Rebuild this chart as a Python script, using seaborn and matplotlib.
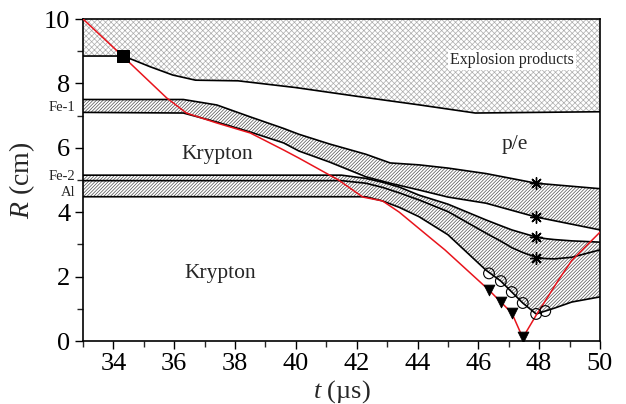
import matplotlib
matplotlib.use("Agg")
import matplotlib.pyplot as plt
import matplotlib.transforms as mtransforms
from matplotlib.ticker import MultipleLocator
import seaborn as sns

# Lower edge of the explosion-products region, R(t)
products_t = [33, 34.3, 34.65, 35.2, 35.95, 36.7, 38.1, 40, 42, 44, 45.9, 50]
products_r = [8.85, 8.85, 8.73, 8.52, 8.26, 8.1, 8.08, 7.87, 7.6, 7.34, 7.08, 7.12]

# First iron shell (Fe-1): outer and inner surfaces
fe1_t = [33, 36.3, 37.4, 38.5, 39.6, 40.1, 41.1, 42.3, 43.1, 44.05, 45.0, 46.25, 47.9, 50]
fe1_outer = [7.5, 7.5, 7.33, 6.96, 6.6, 6.42, 6.12, 5.8, 5.53, 5.47, 5.37, 5.2, 4.9, 4.73]
fe1_inner = [7.1, 7.08, 6.8, 6.49, 6.15, 5.9, 5.56, 5.1, 4.9, 4.69, 4.47, 4.28, 3.85, 3.45]

# Second iron shell (Fe-2) and aluminium liner
liner_t = [33, 41.5, 42.3, 42.85, 43.4, 44.05, 45.0, 46.25, 46.74, 47.1, 47.46, 47.9, 48.2, 48.5, 49.07, 50]
fe2_outer = [5.15, 5.15, 5.05, 4.93, 4.78, 4.53, 4.25, 3.76, 3.58, 3.45, 3.35, 3.23, 3.18, 3.15, 3.11, 3.07]
fe2_inner = [4.98, 4.98, 4.9, 4.77, 4.6, 4.38, 4.02, 3.35, 3.1, 2.9, 2.75, 2.6, 2.56, 2.55, 2.6, 2.83]
al_inner = [4.48, 4.48, 4.48, 4.35, 4.15, 3.86, 3.3, 2.2, 1.86, 1.52, 1.18, 0.84, 0.93, 1.02, 1.21, 1.37]

# Shock trajectory in krypton
shock_t = [33, 34.3, 35.75, 36.4, 37.4, 38.5, 39.6, 40.1, 41.4, 42.2, 42.85, 43.4,
           44.5, 44.9, 46.35, 46.74, 47.1, 47.46, 47.9, 48.64, 49.07, 50]
shock_r = [10, 8.85, 7.55, 7.08, 6.77, 6.46, 5.93, 5.68, 5.0, 4.47, 4.35, 4.0,
           3.14, 2.83, 1.58, 1.21, 0.87, 0.1, 0.8, 1.9, 2.5, 3.38]

# Measured points
square_t, square_r = [34.3], [8.85]
tri_t = [46.35, 46.74, 47.1, 47.46]
tri_r = [1.58, 1.21, 0.87, 0.12]
circ_t = [46.35, 46.74, 47.1, 47.46, 47.9, 48.2]
circ_r = [2.1, 1.86, 1.52, 1.18, 0.84, 0.93]
star_t = [47.9, 47.9, 47.9, 47.9]
star_r = [4.9, 3.85, 3.23, 2.58]

x_ticks = [34, 36, 38, 40, 42, 44, 46, 48, 50]
y_ticks = [0, 2, 4, 6, 8, 10]

sns.set_theme(style="ticks")
plt.rcParams["font.family"] = ["Liberation Serif", "DejaVu Serif"]
plt.rcParams["mathtext.fontset"] = "custom"
plt.rcParams["mathtext.rm"] = "Liberation Serif"
plt.rcParams["mathtext.it"] = "Liberation Serif:italic"
plt.rcParams["hatch.linewidth"] = 0.5

fig = plt.figure(figsize=(6.26, 4.04), dpi=100)
ax = fig.add_axes([83 / 626, 1 - 341 / 404, 517 / 626, 322 / 404])

# Explosion products (cross-hatched, up to the top of the frame)
ax.fill_between(products_t, products_r, 10, facecolor="white",
                edgecolor="#acacac", hatch="xxxxxx", linewidth=0, zorder=1)
# Shell layers
layer_hatch = "//////////"
ax.fill_between(fe1_t, fe1_inner, fe1_outer, facecolor="white",
                edgecolor="#505050", hatch=layer_hatch, linewidth=0, zorder=1)
ax.fill_between(liner_t, fe2_inner, fe2_outer, facecolor="white",
                edgecolor="#505050", hatch=layer_hatch, linewidth=0, zorder=1)
ax.fill_between(liner_t, al_inner, fe2_inner, facecolor="white",
                edgecolor="#505050", hatch=layer_hatch, linewidth=0, zorder=1)

boundaries = [
    (products_t, products_r),
    (fe1_t, fe1_outer), (fe1_t, fe1_inner),
    (liner_t, fe2_outer), (liner_t, fe2_inner), (liner_t, al_inner),
]
for bt, br in boundaries:
    sns.lineplot(x=bt, y=br, color="black", linewidth=1.2, estimator=None,
                 ax=ax, zorder=3)

sns.lineplot(x=shock_t, y=shock_r, color="#e8141c", linewidth=1.1,
             estimator=None, ax=ax, zorder=4)

sns.scatterplot(x=square_t, y=square_r, marker="s", s=80, color="black",
                edgecolor="black", ax=ax, zorder=5)
sns.scatterplot(x=tri_t, y=tri_r, marker="v", s=60, color="black",
                edgecolor="black", ax=ax, zorder=5)
sns.scatterplot(x=circ_t, y=circ_r, marker="o", s=60, facecolor="none",
                edgecolor="black", linewidth=0.8, ax=ax, zorder=5)
sns.scatterplot(x=star_t, y=star_r, marker=(8, 2, 0), s=70, color="black",
                linewidth=1.0, ax=ax, zorder=5)

ax.set_xlim(33, 50)
ax.set_ylim(0, 10)
ax.set_xticks(x_ticks)
ax.set_yticks(y_ticks)
ax.xaxis.set_minor_locator(MultipleLocator(1))
ax.yaxis.set_minor_locator(MultipleLocator(1))
ax.tick_params(which="major", direction="out", length=6, width=1.0,
               labelsize=19, colors="black", pad=3)
ax.tick_params(which="minor", direction="out", length=4, width=1.0)
for sp in ax.spines.values():
    sp.set_visible(True)
    sp.set_linewidth(1.2)
    sp.set_color("black")

ax.set_xlabel("$t$ (µs)", fontsize=19, labelpad=2)
ax.set_ylabel("$R$ (cm)", fontsize=20, labelpad=5)

ax.text(47.1, 8.73, "Explosion products", fontsize=11.5, ha="center",
        va="center", zorder=6,
        bbox=dict(facecolor="white", edgecolor="none", pad=1.5))
ax.text(47.2, 6.09, "p/e", fontsize=15.5, ha="center", va="center", zorder=6)
ax.text(37.4, 5.8, "Krypton", fontsize=15.5, ha="center", va="center", zorder=6)
ax.text(37.5, 2.1, "Krypton", fontsize=15.5, ha="center", va="center", zorder=6)

side = mtransforms.blended_transform_factory(ax.transAxes, ax.transData)
for label, r in [("Fe-1", 7.26), ("Fe-2", 5.1), ("Al", 4.62)]:
    ax.text(-0.015, r, label, transform=side, fontsize=10.5, ha="right",
            va="center", clip_on=False)

fig.savefig("out.png", dpi=100)
